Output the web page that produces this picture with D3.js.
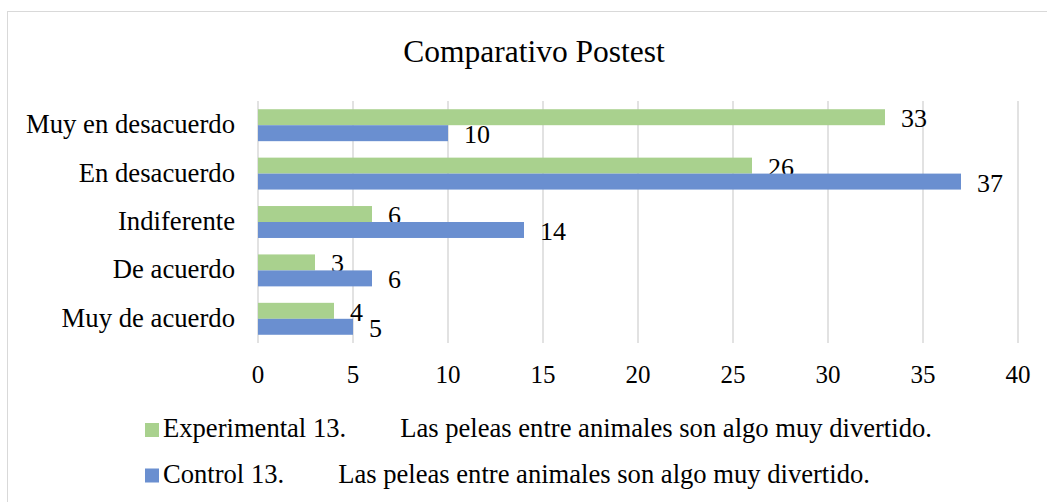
<!DOCTYPE html>
<html lang="es">
<head>
<meta charset="UTF-8" />
<title>Comparativo Postest</title>
<script src="https://d3js.org/d3.v7.min.js"></script>
<style>
  body { margin: 0; background: #fff; }
  svg text { fill: #000; font-family: "Liberation Serif", "DejaVu Serif", serif; }
</style>
</head>
<body>
<div id="chart"></div>
<script>
  const categories = ["Muy en desacuerdo", "En desacuerdo", "Indiferente", "De acuerdo", "Muy de acuerdo"];
  const experimental = [33, 26, 6, 3, 4];
  const control = [10, 37, 14, 6, 5];
  const seriesNames = [
    ["Experimental 13.", "Las peleas entre animales son algo muy divertido."],
    ["Control 13.", "Las peleas entre animales son algo muy divertido."]
  ];
  const xTicks = [0, 5, 10, 15, 20, 25, 30, 35, 40];
  const colors = ["#a9d18e", "#6a8fd0"];

  const width = 1047, height = 502;
  const svg = d3.select("#chart").append("svg")
    .attr("width", width).attr("height", height);

  // outer frame (right and bottom edges fall outside the picture)
  svg.append("rect")
    .attr("x", 7.5).attr("y", 11.5)
    .attr("width", 1060).attr("height", 520)
    .attr("fill", "none").attr("stroke", "#d9d9d9");

  svg.append("text")
    .attr("x", 534).attr("y", 62)
    .attr("text-anchor", "middle")
    .style("font-size", "31.5px")
    .text("Comparativo Postest");

  const x = d3.scaleLinear().domain([0, 40]).range([258, 1018]);
  const y = d3.scaleBand().domain(categories).range([101, 343]).paddingInner(0.34).paddingOuter(0.17);
  const sub = d3.scaleBand().domain([0, 1]).range([0, y.bandwidth()]);

  // gridlines
  svg.append("g").selectAll("line").data(xTicks).join("line")
    .attr("x1", d => x(d)).attr("x2", d => x(d))
    .attr("y1", 101).attr("y2", 343)
    .attr("stroke", "#d9d9d9").attr("stroke-width", 1.5);

  const series = [experimental, control];
  series.forEach((vals, si) => {
    const g = svg.append("g");
    g.selectAll("rect").data(vals).join("rect")
      .attr("x", x(0))
      .attr("y", (d, i) => y(categories[i]) + sub(si))
      .attr("width", d => x(d) - x(0))
      .attr("height", sub.bandwidth())
      .attr("fill", colors[si]);
    g.selectAll("text").data(vals).join("text")
      .attr("x", d => x(d) + 16)
      .attr("y", (d, i) => y(categories[i]) + sub(si) + sub.bandwidth() / 2 + 1.5)
      .attr("dy", "0.33em")
      .style("font-size", "26px")
      .text(d => d);
  });

  // category labels
  svg.append("g").selectAll("text").data(categories).join("text")
    .attr("x", 235)
    .attr("y", d => y(d) + y.bandwidth() / 2)
    .attr("dy", "0.3em")
    .attr("text-anchor", "end")
    .style("font-size", "26.7px")
    .text(d => d);

  // x tick labels
  svg.append("g").selectAll("text").data(xTicks).join("text")
    .attr("x", d => x(d))
    .attr("y", 383)
    .attr("text-anchor", "middle")
    .style("font-size", "25px")
    .text(d => d);

  // legend
  const legend = svg.append("g");
  seriesNames.forEach((name, i) => {
    const base = 437 + i * 45.5;
    legend.append("rect")
      .attr("x", 145).attr("y", base - 14)
      .attr("width", 14).attr("height", 14)
      .attr("fill", colors[i]);
    const t = legend.append("text")
      .attr("x", 163).attr("y", base)
      .style("font-size", "26.6px");
    t.append("tspan").text(name[0]);
    t.append("tspan").attr("dx", 54).text(name[1]);
  });
</script>
</body>
</html>
